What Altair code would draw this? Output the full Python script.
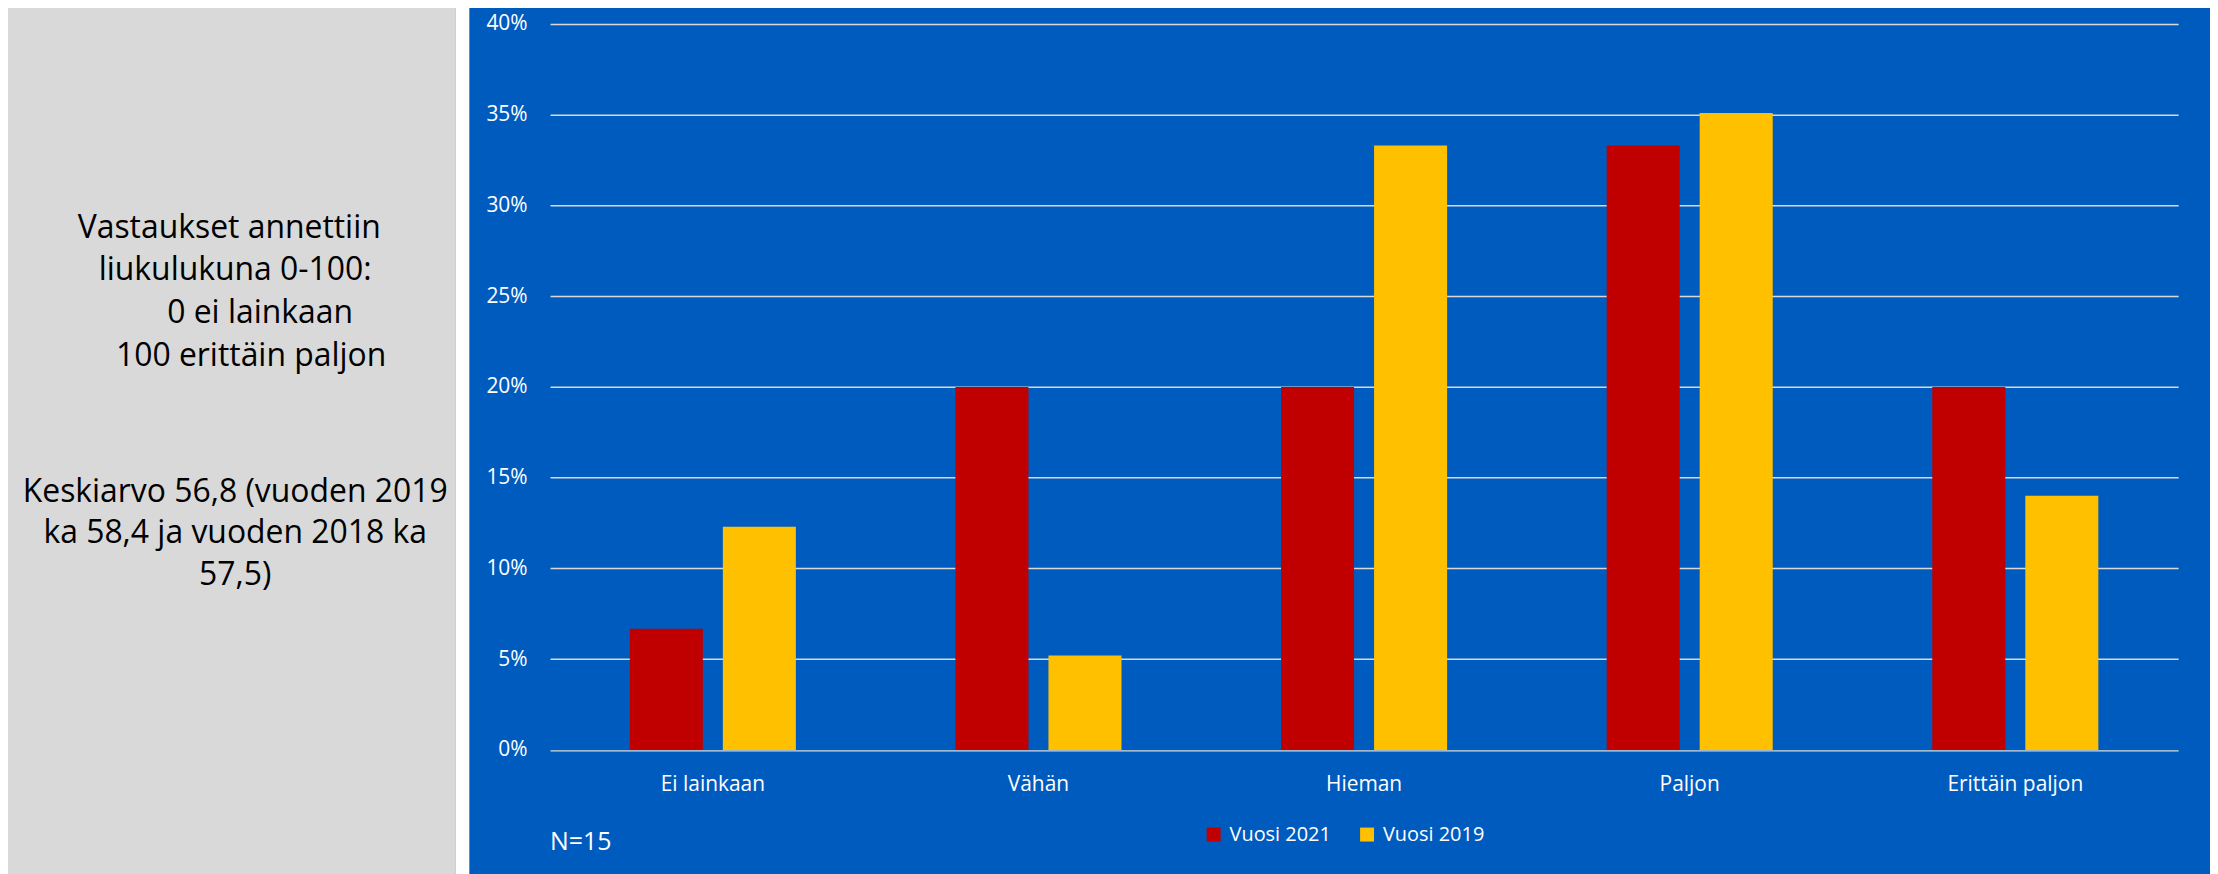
import altair as alt
import pandas as pd

# ---- data ----
CATEGORIES = ["Ei lainkaan", "Vähän", "Hieman", "Paljon", "Erittäin paljon"]
SERIES = ["Vuosi 2021", "Vuosi 2019"]
VALUES_2021 = [0.0667, 0.20, 0.20, 0.333, 0.20]
VALUES_2019 = [0.123, 0.052, 0.333, 0.351, 0.140]
Y_TICKS = [0, 0.05, 0.10, 0.15, 0.20, 0.25, 0.30, 0.35, 0.40]
NOTE_TOP = ["Vastaukset annettiin", "liukulukuna 0-100:", "0 ei lainkaan", "100 erittäin paljon"]
NOTE_BOTTOM = ["Keskiarvo 56,8 (vuoden 2019", "ka 58,4 ja vuoden 2018 ka", "57,5)"]
N_LABEL = "N=15"

COLORS = ["#C00000", "#FFC000"]
BLUE = "#005BBF"
GRAY = "#D9D9D9"
FONT = "Open Sans"

rows = []
for c, a, b in zip(CATEGORIES, VALUES_2021, VALUES_2019):
    rows.append({"category": c, "series": SERIES[0], "value": a})
    rows.append({"category": c, "series": SERIES[1], "value": b})
df = pd.DataFrame(rows)

W, H = 1634, 728.5
one = pd.DataFrame({"k": [0]})

gray_panel = alt.Chart(one).mark_rect(color=GRAY).encode(
    x=alt.value(-560), x2=alt.value(-95), y=alt.value(-20), y2=alt.value(870)
)
white_gap = alt.Chart(one).mark_rect(color="white").encode(
    x=alt.value(-95), x2=alt.value(-81), y=alt.value(-20), y2=alt.value(870)
)

note_layers = []
top_x = [-322, -316, -291, -300]
for i, line in enumerate(NOTE_TOP):
    note_layers.append(
        alt.Chart(pd.DataFrame({"t": [line]})).mark_text(
            font=FONT, fontSize=32, color="black", align="center", baseline="alphabetic"
        ).encode(x=alt.value(top_x[i]), y=alt.value(214.5 + i * 42.8), text="t:N")
    )
for i, line in enumerate(NOTE_BOTTOM):
    note_layers.append(
        alt.Chart(pd.DataFrame({"t": [line]})).mark_text(
            font=FONT, fontSize=32, color="black", align="center", baseline="alphabetic"
        ).encode(x=alt.value(-316), y=alt.value(479.5 + i * 41.7), text="t:N")
    )

n_text = alt.Chart(pd.DataFrame({"t": [N_LABEL]})).mark_text(
    font=FONT, fontSize=25, color="white", align="left", baseline="middle"
).encode(x=alt.value(0), y=alt.value(820.5), text="t:N")

bars = alt.Chart(df).mark_bar().encode(
    x=alt.X(
        "category:N",
        sort=CATEGORIES,
        scale=alt.Scale(paddingInner=0.49, paddingOuter=0.245),
        axis=alt.Axis(
            title=None, labelAngle=0, domain=False, ticks=False, grid=False,
            labelColor="white", labelFont=FONT, labelFontSize=21, labelPadding=24,
        ),
    ),
    xOffset=alt.XOffset("series:N", sort=SERIES, scale=alt.Scale(paddingInner=0.215, paddingOuter=0)),
    y=alt.Y(
        "value:Q",
        scale=alt.Scale(domain=[0, 0.4], nice=False),
        axis=alt.Axis(
            title=None, values=Y_TICKS, format=".0%", domain=False, ticks=False,
            labelColor="white", labelFont=FONT, labelFontSize=21, labelPadding=23,
            grid=True, gridColor=GRAY, gridWidth=1.5,
        ),
    ),
    color=alt.Color(
        "series:N",
        sort=SERIES,
        scale=alt.Scale(domain=SERIES, range=COLORS),
        legend=alt.Legend(
            title=None, orient="none", legendX=656, legendY=803.5, direction="horizontal",
            symbolType="square", symbolSize=196, symbolStrokeWidth=0, symbolOpacity=1,
            labelColor="white", labelFont=FONT, labelFontSize=20, labelOffset=6,
            columnPadding=26, padding=0,
        ),
    ),
)

chart = alt.layer(gray_panel, white_gap, *note_layers, n_text, bars).properties(
    width=W,
    height=H,
    autosize=alt.AutoSizeParams(type="none"),
    padding={"left": 544, "top": 14.5, "right": 32, "bottom": 123},
    background=BLUE,
).configure_view(strokeWidth=0)

chart.save("out.html", embed_options={"renderer": "svg", "actions": False})
